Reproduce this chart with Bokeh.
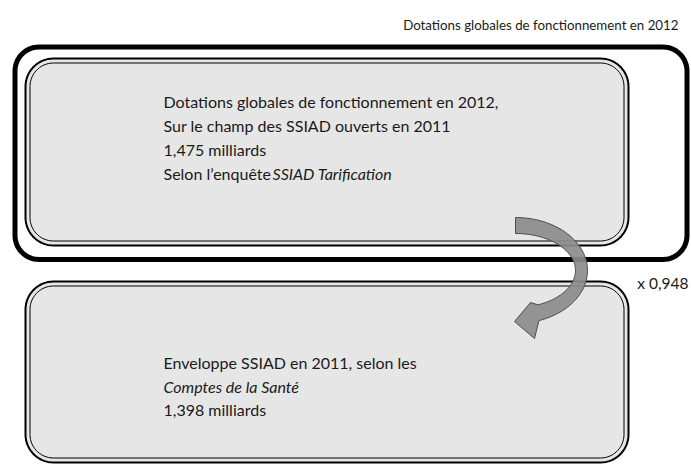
import numpy as np
from bokeh.plotting import figure
from bokeh.models import Range1d
from bokeh.core.properties import value
from bokeh.embed import file_html
from bokeh.resources import INLINE

# ---- texts of the diagram ----
title_text = ["Dotations globales de fonctionnement en 2012"]
upper_lines = ["Dotations globales de fonctionnement en 2012,",
               "Sur le champ des SSIAD ouverts en 2011",
               "1,475 milliards",
               "Selon l\u2019enqu\u00eate"]
upper_italic = ["SSIAD Tarification"]
lower_lines = ["Enveloppe SSIAD en 2011, selon les",
               "1,398 milliards"]
lower_italic = ["Comptes de la Sant\u00e9"]
factor_label = ["x 0,948"]

FONT = value("Lato")
TXT = "#1a1a1a"
FILL = "#e6e6e6"

W, H = 691, 465
p = figure(width=W, height=H, output_backend="svg", toolbar_location=None,
           x_range=Range1d(0, W), y_range=Range1d(H, 0),
           min_border=0)
p.axis.visible = False
p.grid.visible = False
p.outline_line_color = None
p.background_fill_color = "white"


def rrect(x0, y0, x1, y1, r, n=16):
    xs, ys = [], []
    corners = [(x1 - r, y0 + r, -90, 0), (x1 - r, y1 - r, 0, 90),
               (x0 + r, y1 - r, 90, 180), (x0 + r, y0 + r, 180, 270)]
    for cx, cy, a0, a1 in corners:
        t = np.radians(np.linspace(a0, a1, n))
        xs += list(cx + r * np.cos(t))
        ys += list(cy + r * np.sin(t))
    xs.append(xs[0]); ys.append(ys[0])
    return xs, ys


# box geometry
outer = (14.5, 46.5, 686.5, 259, 24)
upper = (25, 58, 628, 245, 28)
lower = (25, 281, 628, 462, 28)

# fills
for b in (upper, lower):
    xs, ys = rrect(*b)
    p.patch(xs, ys, fill_color=FILL, line_color=None)

# curved arrow
cx, cy = 515, 270
to = np.radians(np.linspace(-90, 71, 60))
ti = np.radians(np.linspace(68, -90, 60))
ax = list(cx + 72 * np.cos(to)) + [534, 514, 530] + list(cx + 60 * np.cos(ti))
ay = list(cy + 53 * np.sin(to)) + [338, 321, 302] + list(cy + 37 * np.sin(ti))
ax.append(ax[0]); ay.append(ay[0])

# border lines
xs, ys = rrect(*outer)
p.line(xs, ys, line_color="black", line_width=5)
for b in (upper, lower):
    xs, ys = rrect(*b)
    p.line(xs, ys, line_color="black", line_width=2)
    x0, y0, x1, y1, r = b
    xs, ys = rrect(x0 + 4.5, y0 + 4.5, x1 - 4.5, y1 - 4.5, r - 4.5)
    p.line(xs, ys, line_color="black", line_width=1)

p.patch(ax, ay, fill_color="#8c8c8c", fill_alpha=0.92,
        line_color="#4d4d4d", line_width=1)

# texts
p.text(x=[678], y=[24], text=title_text, text_font=FONT,
       text_font_size="13.3px", text_align="right", text_baseline="middle",
       text_color=TXT)
p.text(x=[163] * 4, y=[101, 125, 149, 173], text=upper_lines, text_font=FONT,
       text_font_size="16px", text_baseline="middle", text_color=TXT)
p.text(x=[272], y=[173], text=upper_italic, text_font=FONT,
       text_font_style="italic", text_font_size="16px",
       text_baseline="middle", text_color=TXT)
p.text(x=[163] * 2, y=[362, 409], text=lower_lines, text_font=FONT,
       text_font_size="16px", text_baseline="middle", text_color=TXT)
p.text(x=[163], y=[386], text=lower_italic, text_font=FONT,
       text_font_style="italic", text_font_size="16px",
       text_baseline="middle", text_color=TXT)
p.text(x=[688], y=[282], text=factor_label, text_font=FONT,
       text_font_size="15.5px", text_align="right", text_baseline="middle",
       text_color=TXT)

open("out.html", "w").write(file_html(p, INLINE))
